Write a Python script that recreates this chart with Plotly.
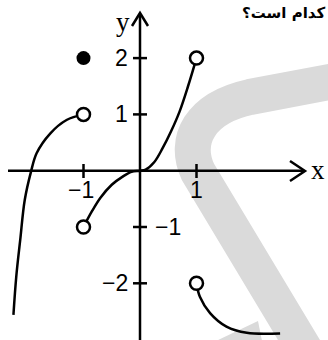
import plotly.graph_objects as go

W, H = 328, 340

# curve pieces
left_x = [-2.24, -2.19, -2.12, -2.04, -1.93, -1.83, -1.59, -1.30, -1.0]
left_y = [-2.56, -1.88, -1.23, -0.52, -0.02, 0.31, 0.66, 0.90, 1.0]

mid_x = [-1, -0.85, -0.7, -0.5, -0.3, -0.15, 0, 0.1, 0.25, 0.4, 0.55, 0.7, 0.85, 1]
mid_y = [-1, -0.72, -0.48, -0.25, -0.1, -0.02, 0, 0.02, 0.15, 0.4, 0.7, 1.05, 1.5, 2]

right_x = [1, 1.06, 1.24, 1.53, 1.89, 2.48]
right_y = [-2.0, -2.24, -2.53, -2.77, -2.88, -2.89]

open_x = [-1, -1, 1, 1]
open_y = [1, -1, 2, -2]
filled_x = [-1]
filled_y = [2]

xtick_vals = [-1, 1]
xtick_text = ['−1', '1']
ytick_vals = [2, 1, -1, -2]
ytick_text = ['2', '1', '−1', '−2']

# pixel geometry of the drawing
ox, oy = 140, 170.7
ux, uy = 56.5, 56.3
xr = [(0 - ox) / ux, (W - ox) / ux]
yr = [-(H - oy) / uy, oy / uy]

def dx(p):
    return (p - ox) / ux

def dy(p):
    return (oy - p) / uy

def pp(x, y):
    return x / W, 1 - y / H

fig = go.Figure()

for xs, ys in [(left_x, left_y), (mid_x, mid_y), (right_x, right_y)]:
    fig.add_trace(go.Scatter(x=xs, y=ys, mode='lines', line=dict(color='black', width=2.5, shape='spline', smoothing=1), hoverinfo='skip'))

fig.add_trace(go.Scatter(x=open_x, y=open_y, mode='markers',
    marker=dict(size=13, color='white', line=dict(color='black', width=2.5))))
fig.add_trace(go.Scatter(x=filled_x, y=filled_y, mode='markers',
    marker=dict(size=14, color='black')))

shapes = []

# watermark band
band = [(340, 80), (250, 97), (200, 108), (183, 140), (198, 172), (305, 350)]
path = 'M {},{} L {},{} C {},{} {},{} {},{} L {},{}'.format(
    *pp(*band[0]), *pp(*band[1]), *pp(*band[2]), *pp(*band[3]), *pp(*band[4]), *pp(*band[5]))
shapes.append(dict(type='path', xref='paper', yref='paper', path=path,
    line=dict(color='#dadada', width=36), layer='below'))
tri = [(216, 341), (258, 321), (262, 341)]
shapes.append(dict(type='path', xref='paper', yref='paper',
    path='M {},{} L {},{} L {},{} Z'.format(*pp(*tri[0]), *pp(*tri[1]), *pp(*tri[2])),
    fillcolor='#dadada', line=dict(width=0), layer='below'))

# axes
shapes.append(dict(type='line', x0=dx(8), x1=dx(304), y0=0, y1=0, line=dict(color='black', width=2.5), layer='below'))
shapes.append(dict(type='line', x0=0, x1=0, y0=dy(345), y1=dy(14), line=dict(color='black', width=2.5), layer='below'))
for a, b, c in [((290, 161), (305, 171), (290, 181)), ((132, 26), (140, 13), (148, 26))]:
    shapes.append(dict(type='path', xref='paper', yref='paper',
        path='M {},{} L {},{} L {},{}'.format(*pp(*a), *pp(*b), *pp(*c)),
        line=dict(color='black', width=2.5)))

for v in xtick_vals:
    shapes.append(dict(type='line', x0=v, x1=v, y0=dy(164), y1=dy(178), line=dict(color='black', width=2.5)))
for v in ytick_vals:
    shapes.append(dict(type='line', x0=dx(133), x1=dx(147), y0=v, y1=v, line=dict(color='black', width=2.5)))

annotations = []
num_font = dict(family='Liberation Sans', size=23, color='black')
for v, t in zip(xtick_vals, xtick_text):
    annotations.append(dict(x=v, y=0, text=t, showarrow=False, font=num_font,
        xanchor='center', yanchor='middle', yshift=-19, xshift=-3 if v < 0 else 0))
for v, t in zip(ytick_vals, ytick_text):
    if v == -1:
        annotations.append(dict(x=0, y=v, text=t, showarrow=False, font=num_font,
            xanchor='left', yanchor='middle', xshift=13))
    else:
        annotations.append(dict(x=0, y=v, text=t, showarrow=False, font=num_font,
            xanchor='right', yanchor='middle', xshift=-10))

var_font = dict(family='Liberation Serif', size=27, color='black')
annotations.append(dict(x=dx(318), y=0, text='x', showarrow=False, font=var_font, yshift=1))
annotations.append(dict(x=dx(123), y=dy(22), text='y', showarrow=False, font=var_font))

annotations.append(dict(xref='paper', yref='paper', x=240 / W, y=1 - 2 / H, text='<b>کدام است؟</b>',
    showarrow=False, xanchor='left', yanchor='top',
    font=dict(family='DejaVu Sans', size=15, color='black')))

fig.update_layout(
    width=W, height=H,
    margin=dict(l=0, r=0, t=0, b=0),
    paper_bgcolor='white', plot_bgcolor='white',
    showlegend=False,
    xaxis=dict(range=xr, visible=False, fixedrange=True),
    yaxis=dict(range=yr, visible=False, fixedrange=True),
    shapes=shapes, annotations=annotations,
)

fig.write_html('out.html', config={'displayModeBar': False},
               post_script="document.body.style.margin='0px';")
